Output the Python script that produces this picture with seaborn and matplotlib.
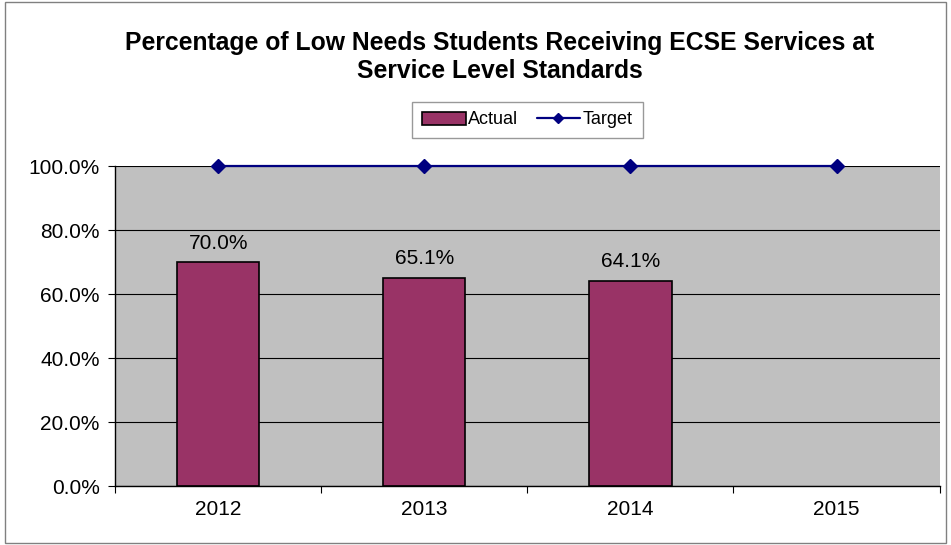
import matplotlib
matplotlib.use("Agg")
import matplotlib.pyplot as plt
import seaborn as sns
import pandas as pd
import numpy as np
from matplotlib.patches import Rectangle

years = ["2012", "2013", "2014", "2015"]
actual = [70.0, 65.1, 64.1, None]
target = [100.0, 100.0, 100.0, 100.0]
y_ticks = [0, 20, 40, 60, 80, 100]

sns.set_style("white")
plt.rcParams["font.family"] = ["Liberation Sans", "DejaVu Sans"]
plt.rcParams["text.color"] = "black"
plt.rcParams["xtick.color"] = "black"
plt.rcParams["ytick.color"] = "black"

fig = plt.figure(figsize=(9.51, 5.45), dpi=100)
ax = fig.add_axes([0.121, 0.108, 0.867, 0.587])
ax.set_facecolor("#C0C0C0")

df = pd.DataFrame({"year": years, "actual": [np.nan if v is None else v for v in actual]})
sns.barplot(data=df, x="year", y="actual", color="#993366", saturation=1,
            width=0.4, edgecolor="black", linewidth=1.2, ax=ax, label="Actual")

xpos = np.arange(len(years))
ax.plot(xpos, target, color="#000080", marker="D", markersize=7.5,
        linewidth=1.6, label="Target", zorder=4, clip_on=False)

for x, v in zip(xpos, actual):
    if v is not None:
        ax.text(x, v + 3, f"{v:.1f}%", ha="center", va="bottom", fontsize=15)

ax.set_xlim(-0.5, len(years) - 0.5)
ax.set_ylim(0, 100)
ax.set_yticks(y_ticks)
ax.set_yticklabels([f"{t:.1f}%" for t in y_ticks], fontsize=15)
ax.yaxis.grid(True, color="black", linewidth=0.8)
ax.set_axisbelow(True)
ax.set_xlabel("")
ax.set_ylabel("")
ax.set_xticks(np.arange(len(years) + 1) - 0.5, minor=False)
ax.set_xticklabels([])
ax.set_xticks(xpos, minor=True)
ax.set_xticklabels(years, minor=True, fontsize=15)
ax.tick_params(axis="x", which="major", length=5, direction="out", bottom=True, color="black")
ax.tick_params(axis="x", which="minor", length=0, pad=10)
ax.tick_params(axis="y", length=5, direction="out", left=True, color="black", pad=6)

for side in ["top", "right"]:
    ax.spines[side].set_visible(False)
ax.spines["left"].set_color("black")
ax.spines["bottom"].set_color("black")
ax.spines["left"].set_linewidth(1)
ax.spines["bottom"].set_linewidth(1)

fig.text(499.5 / 951, 1 - 57 / 545,
         "Percentage of Low Needs Students Receiving ECSE Services at\nService Level Standards",
         ha="center", va="center", fontsize=17.8, fontweight="bold", linespacing=1.25)

handles, labels = ax.get_legend_handles_labels()
order = [labels.index("Actual"), labels.index("Target")]
leg = ax.legend([handles[i] for i in order], [labels[i] for i in order],
                loc="center", bbox_to_anchor=(527.5 / 951, 1 - 120 / 545),
                bbox_transform=fig.transFigure,
                ncol=2, frameon=True, fontsize=13, handlelength=2.4, columnspacing=1.0,
                handletextpad=0.15, borderpad=0.55, borderaxespad=0, fancybox=False)
leg.get_frame().set_edgecolor("#808080")
leg.get_frame().set_linewidth(1)
leg.legend_handles[1].set_markersize(5)

fig.patches.append(Rectangle((0.005, 0.004), 0.99, 0.992, transform=fig.transFigure,
                             fill=False, edgecolor="#808080", linewidth=1))

fig.savefig("out.png", dpi=100)
